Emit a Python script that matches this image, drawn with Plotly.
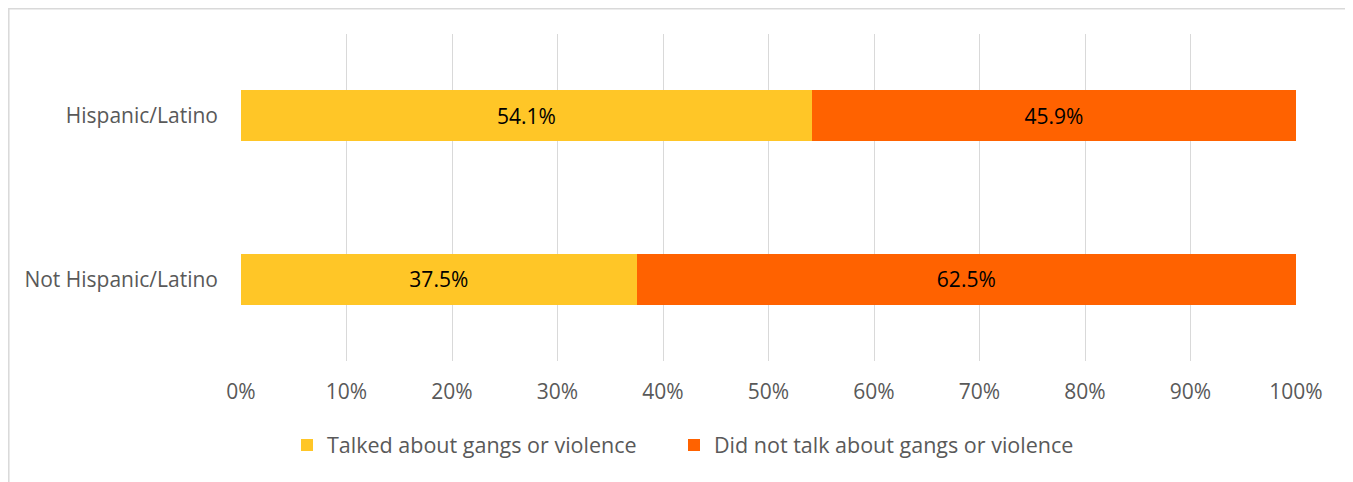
import plotly.graph_objects as go

categories = ["Hispanic/Latino", "Not Hispanic/Latino"]
talked = [54.1, 37.5]
not_talked = [45.9, 62.5]
series_names = ["Talked about gangs or violence", "Did not talk about gangs or violence"]
tick_vals = [0, 10, 20, 30, 40, 50, 60, 70, 80, 90, 100]
tick_text = [f"{v}%" for v in tick_vals]

# page has an 8px body margin: figure coordinates are page coords - 8
W, H = 1345, 474
L, R, T, B = 233, 57, 26, 121
pw, ph = W - L - R, H - T - B
FONT = "Open Sans"
FS = 21

fig = go.Figure()
fig.add_trace(go.Bar(
    y=categories, x=talked, orientation="h", name=series_names[0],
    marker=dict(color="#FFC627", line=dict(width=0)),
    text=[f"{v:.1f}%" for v in talked], textposition="inside",
    insidetextanchor="middle", textfont=dict(color="black", size=FS, family=FONT),
    width=0.312, legend="legend",
))
fig.add_trace(go.Bar(
    y=categories, x=not_talked, orientation="h", name=series_names[1],
    marker=dict(color="#FF6200", line=dict(width=0)),
    text=[f"{v:.1f}%" for v in not_talked], textposition="inside",
    insidetextanchor="middle", textfont=dict(color="black", size=FS, family=FONT),
    width=0.312, legend="legend2",
))

# outer chart border (left, top, right visible; bottom off-page)
fig.add_shape(type="rect", xref="paper", yref="paper",
              x0=(0.8 - L) / pw, x1=(1340 - L) / pw,
              y0=(H - B - 520) / ph, y1=(H - B - 0.8) / ph,
              line=dict(color="#D9D9D9", width=1.5), fillcolor="rgba(0,0,0,0)", layer="below")

legend_common = dict(orientation="h", xanchor="left",
                     y=-(437 - (H - B)) / ph, yanchor="middle",
                     font=dict(size=21.5, color="#595959", family=FONT),
                     itemwidth=30, bgcolor="rgba(0,0,0,0)")

fig.update_layout(
    width=W, height=H,
    margin=dict(l=L, r=R, t=T, b=B),
    barmode="stack",
    plot_bgcolor="white", paper_bgcolor="white",
    font=dict(family=FONT, color="#595959", size=FS),
    showlegend=True,
    legend=dict(x=(302 - 8 - 15 - L) / pw, **legend_common),
    legend2=dict(x=(689 - 8 - 15 - L) / pw, **legend_common),
    xaxis=dict(range=[0, 100], tickvals=tick_vals, ticktext=tick_text,
               showgrid=True, gridcolor="#D9D9D9", gridwidth=1.3,
               zeroline=False, showline=False, ticks="",
               ticklabelstandoff=16, tickfont=dict(size=FS, color="#595959", family=FONT)),
    yaxis=dict(showgrid=False, zeroline=False, showline=False,
               ticks="", ticklabelstandoff=22, tickfont=dict(size=FS, color="#595959", family=FONT),
               range=[1.5, -0.5]),
    uniformtext=dict(mode="show", minsize=10),
)

fig.write_html("out.html")
